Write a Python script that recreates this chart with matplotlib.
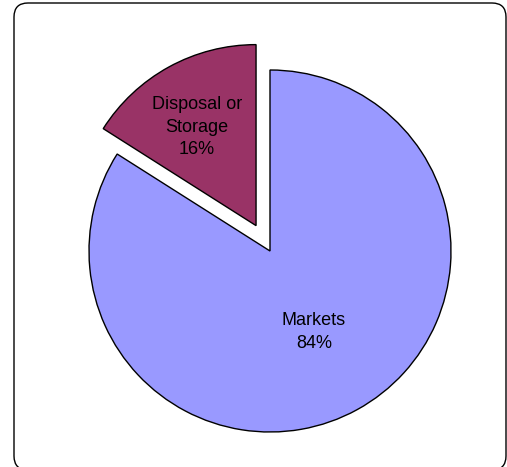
import matplotlib
matplotlib.use("Agg")
import matplotlib.pyplot as plt
from matplotlib.patches import FancyBboxPatch

# Share of output by destination
categories = ["Markets", "Disposal or\nStorage"]
shares = [84, 16]
colors = ["#9999FF", "#993366"]
explode_frac = [0.0, 0.16]

W, H = 507, 467
fig = plt.figure(figsize=(W / 100, H / 100), dpi=100)
ax = fig.add_axes([0, 0, 1, 1])

cx, cy, r = 270, H - 251, 181
wedges, texts = ax.pie(
    shares,
    colors=colors,
    explode=[e * r for e in explode_frac],
    startangle=90,
    counterclock=False,
    radius=r,
    center=(cx, cy),
    wedgeprops=dict(edgecolor="black", linewidth=1.0),
)

# labels placed inside each slice
label_pos = [(314, H - 332), (197, H - 127)]
for name, val, (lx, ly) in zip(categories, shares, label_pos):
    ax.text(lx, ly, f"{name}\n{val}%", ha="center", va="center",
            fontsize=13, family="Liberation Sans", linespacing=1.45,
            color="black")

ax.set_xlim(0, W)
ax.set_ylim(0, H)
ax.set_aspect("equal")
ax.axis("off")

# rounded outer frame
frame = FancyBboxPatch((14, -3), 492, H - 3 + 3,
                       boxstyle="round,pad=0,rounding_size=14",
                       facecolor="none", edgecolor="black", linewidth=1.0,
                       clip_on=False)
ax.add_patch(frame)

fig.savefig("out.png", dpi=100)
